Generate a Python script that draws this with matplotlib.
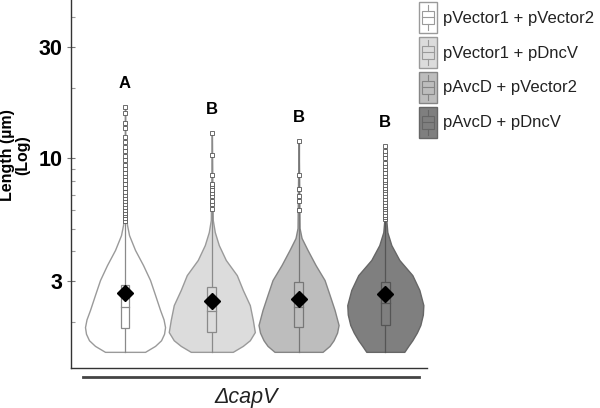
import matplotlib
matplotlib.use('Agg')
import matplotlib.pyplot as plt
from matplotlib.legend_handler import HandlerBase
from matplotlib.patches import Rectangle, Patch
from matplotlib.lines import Line2D
from matplotlib.ticker import FixedLocator, NullFormatter
import numpy as np

plt.rcParams['font.family'] = ['Liberation Sans', 'DejaVu Sans']

groups = ['pVector1 + pVector2', 'pVector1 + pDncV', 'pAvcD + pVector2', 'pAvcD + pDncV']
letters = ['A', 'B', 'B', 'B']

# violin outline: length (um) and relative density
v1_len = [1.49, 1.58, 1.67, 1.78, 1.90, 2.05, 2.25, 2.61, 3.02, 3.50, 4.06, 4.70, 5.19, 5.73, 8.0, 16.6]
v1_dens = [20, 30, 36, 39, 40, 38.5, 35, 30, 25, 18, 10, 4, 2, 1, 0.5, 0]
v2_len = [1.49, 1.58, 1.67, 1.81, 2.04, 2.36, 2.74, 3.17, 3.68, 4.26, 4.84, 5.45, 8.0, 12.8]
v2_dens = [21, 31, 38, 43, 41, 38, 31, 25, 14, 7, 3, 1, 0.5, 0]
v3_len = [1.49, 1.58, 1.67, 1.80, 1.94, 2.25, 2.61, 3.02, 3.50, 4.06, 4.57, 5.04, 8.0, 11.9]
v3_dens = [24, 31, 35, 38.5, 40, 36, 31, 26, 17, 9, 3, 1, 0.5, 0]
v4_len = [1.49, 1.58, 1.67, 1.80, 1.94, 2.15, 2.36, 2.74, 3.17, 3.68, 4.26, 4.84, 5.45, 8.0, 11.3]
v4_dens = [19, 23, 27, 31.5, 35, 37.5, 38, 34, 27, 14, 6, 2, 1, 0.5, 0]

# box statistics
q1 = [1.89, 1.81, 1.91, 1.94]
median = [2.31, 2.22, 2.31, 2.41]
q3 = [2.88, 2.82, 2.96, 2.96]
mean = [2.66, 2.45, 2.51, 2.63]
vmin = [1.49, 1.49, 1.49, 1.49]
vmax = [16.6, 12.8, 11.9, 11.3]

# outliers
out1 = [5.4, 5.55, 5.7, 5.85, 6.0, 6.2, 6.4, 6.6, 6.8, 7.0, 7.2, 7.5, 7.8, 8.1,
        8.4, 8.7, 9.0, 9.4, 9.8, 10.2, 10.7, 11.2, 11.8, 12.3, 13.5, 14.1, 15.6, 16.6]
out2 = [6.1, 6.4, 6.6, 6.9, 7.1, 7.3, 7.6, 7.8, 8.45, 10.3, 12.8]
out3 = [6.0, 6.6, 6.9, 7.4, 8.45, 11.9]
out4 = [5.5, 5.6, 5.75, 5.9, 6.05, 6.2, 6.35, 6.5, 6.7, 6.9, 7.1, 7.3, 7.5, 7.7,
        7.9, 8.1, 8.4, 8.7, 9.0, 9.3, 9.6, 10.0, 10.4, 10.8, 11.3]

profiles = [(v1_len, v1_dens), (v2_len, v2_dens), (v3_len, v3_dens), (v4_len, v4_dens)]
outliers = [out1, out2, out3, out4]

fills = ['#ffffff', '#dcdcdc', '#bdbdbd', '#7f7f7f']
edges = ['#9a9a9a', '#9a9a9a', '#858585', '#666666']
inner = ['#8a8a8a', '#8a8a8a', '#777777', '#555555']

dens_scale = 1 / 86.7   # density units -> category width
box_w = 0.1

fig = plt.figure(figsize=(6, 4.08), dpi=100)
ax = fig.add_axes([0.1183, 0.0988, 0.5933, 0.9012])
ax.set_yscale('log')

for i, (ylen, dens) in enumerate(profiles):
    y = np.array(ylen)
    hw = np.array(dens) * dens_scale
    ax.fill_betweenx(y, i - hw, i + hw, facecolor=fills[i], edgecolor=edges[i],
                     linewidth=1.0, zorder=1)
    ax.plot([i, i], [vmin[i], vmax[i]], color=inner[i], lw=0.9, zorder=2)
    ax.add_patch(Rectangle((i - box_w / 2, q1[i]), box_w, q3[i] - q1[i],
                           facecolor=fills[i], edgecolor=inner[i], lw=0.9, zorder=3))
    ax.plot([i - box_w / 2, i + box_w / 2], [median[i]] * 2, color=inner[i], lw=0.9, zorder=4)
    ax.plot([i] * len(outliers[i]), outliers[i], 's', ms=3.2, mfc='white',
            mec='#555555', mew=0.6, zorder=4)
    ax.plot(i, mean[i], 'D', ms=8, color='black', zorder=5)
    ax.annotate(letters[i], (i, vmax[i]), xytext=(0, 17), textcoords='offset points',
                ha='center', va='center', fontsize=12, fontweight='bold')

ax.set_xlim(-0.623, 3.48)
ax.set_ylim(1.275, 47.5)
ax.set_xticks([])
ax.yaxis.set_major_locator(FixedLocator([3, 10, 30]))
ax.set_yticklabels(['3', '10', '30'], fontsize=15.5, fontweight='bold')
ax.yaxis.set_minor_locator(FixedLocator([2, 4, 5, 6, 7, 8, 9, 20, 40]))
ax.yaxis.set_minor_formatter(NullFormatter())
ax.tick_params(axis='y', which='major', direction='inout', length=6, width=0.8,
               color='#777777', pad=3)
ax.tick_params(axis='y', which='minor', direction='in', length=3, width=0.8, color='#999999')
for s in ['top', 'right']:
    ax.spines[s].set_visible(False)
for s in ['left', 'bottom']:
    ax.spines[s].set_color('#333333')
    ax.spines[s].set_linewidth(1.0)

ax.set_ylabel('Length (µm)\n(Log)', fontsize=11.5, fontweight='bold', linespacing=1.0)
ax.yaxis.set_label_coords(-0.114, 0.578)

# group bar and label below the axis
ax.add_line(Line2D([0.034, 0.978], [-0.025, -0.025], transform=ax.transAxes,
                   color='#444444', lw=2, clip_on=False))
ax.text(0.493, -0.08, 'ΔcapV', transform=ax.transAxes, ha='center', va='center',
        fontsize=15.5, style='italic', color='#222222')


class BoxIcon(HandlerBase):
    def create_artists(self, legend, orig_handle, xdescent, ydescent, width, height,
                       fontsize, trans):
        fc = orig_handle.get_facecolor()
        ec = orig_handle.get_edgecolor()
        x0, y0 = -xdescent, -ydescent
        arts = [Rectangle((x0, y0), width, height, facecolor=fc, edgecolor=ec, lw=1.0),
                Rectangle((x0 + 0.15 * width, y0 + 0.3 * height), 0.7 * width, 0.4 * height,
                          facecolor='none', edgecolor=ec, lw=0.8),
                Line2D([x0 + 0.15 * width, x0 + 0.85 * width], [y0 + 0.5 * height] * 2, color=ec, lw=0.8),
                Line2D([x0 + width / 2] * 2, [y0 + 0.7 * height, y0 + 0.9 * height], color=ec, lw=0.8),
                Line2D([x0 + width / 2] * 2, [y0 + 0.1 * height, y0 + 0.3 * height], color=ec, lw=0.8)]
        for a in arts:
            a.set_transform(trans)
        return arts


handles = [Patch(facecolor=fills[i], edgecolor=edges[i]) for i in range(4)]
fig.legend(handles, groups, handler_map={Patch: BoxIcon()}, loc='upper left',
           bbox_to_anchor=(419 / 600, 1 - 2 / 408), bbox_transform=fig.transFigure,
           frameon=False, fontsize=12, handlelength=1.08, handleheight=2.48,
           labelspacing=0.24, handletextpad=0.36, borderpad=0, borderaxespad=0,
           labelcolor='#222222')

fig.savefig('out.png', dpi=100)
